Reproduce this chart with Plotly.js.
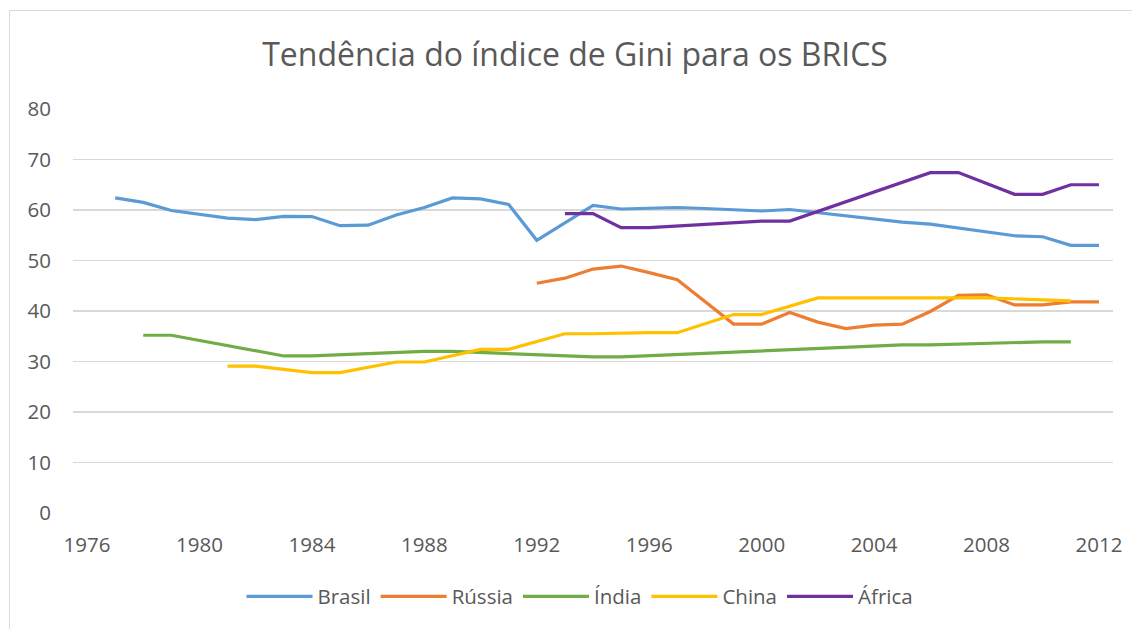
<!DOCTYPE html>
<html>
<head>
<meta charset="utf-8">
<script src="https://cdn.plot.ly/plotly-3.0.1.min.js"></script>
<style>
  html, body { margin: 0; padding: 0; background: #fff; }
  #frame { position: absolute; left: 9px; top: 10px; width: 1200px; height: 700px; border: 1px solid #d9d9d9; box-sizing: border-box; }
  #chart { position: absolute; left: 0; top: 0; width: 1132px; height: 629px; }
</style>
</head>
<body>
<div id="frame"></div>
<div id="chart"></div>
<script>
// ---- data ----
const brasilYears = [1977,1978,1979,1980,1981,1982,1983,1984,1985,1986,1987,1988,1989,1990,1991,1992,1994,1995,1996,1997,1998,1999,2000,2001,2002,2003,2004,2005,2006,2007,2008,2009,2010,2011,2012];
const brasilGini  = [62.4,61.5,59.9,59.1,58.4,58.1,58.75,58.7,56.9,57.0,59.0,60.5,62.4,62.2,61.1,54.0,60.9,60.2,60.3,60.5,60.3,60.0,59.8,60.1,59.5,58.9,58.2,57.6,57.2,56.4,55.6,54.9,54.7,53.0,53.0];

const russiaYears = [1992,1993,1994,1995,1996,1997,1999,2000,2001,2002,2003,2004,2005,2006,2007,2008,2009,2010,2011,2012];
const russiaGini  = [45.5,46.5,48.3,48.9,47.6,46.2,37.4,37.4,39.7,37.8,36.5,37.2,37.4,39.9,43.1,43.2,41.2,41.2,41.8,41.8];

const indiaYears = [1978,1979,1983,1984,1988,1989,1994,1995,2005,2006,2010,2011];
const indiaGini  = [35.2,35.2,31.1,31.1,32.0,32.0,30.9,30.9,33.3,33.3,33.9,33.9];

const chinaYears = [1981,1982,1984,1985,1987,1988,1990,1991,1993,1994,1996,1997,1999,2000,2002,2003,2005,2006,2008,2011];
const chinaGini  = [29.1,29.1,27.8,27.8,29.9,29.9,32.4,32.4,35.5,35.5,35.7,35.7,39.3,39.3,42.6,42.6,42.5,42.5,42.6,42.0];

const africaYears = [1993,1994,1995,1996,2000,2001,2006,2007,2009,2010,2011,2012];
const africaGini  = [59.3,59.3,56.5,56.5,57.8,57.8,67.4,67.4,63.1,63.1,65.0,65.0];

const seriesNames = ["Brasil","Rússia","Índia","China","África"];
const seriesColors = ["#5B9BD5","#ED7D31","#70AD47","#FFC000","#7030A0"];
const xTickVals = [1976,1980,1984,1988,1992,1996,2000,2004,2008,2012];
const yTickVals = [0,10,20,30,40,50,60,70,80];

const allX = [brasilYears, russiaYears, indiaYears, chinaYears, africaYears];
const allY = [brasilGini, russiaGini, indiaGini, chinaGini, africaGini];

const traces = seriesNames.map((name, i) => ({
  type: "scatter",
  mode: "lines",
  name: name,
  x: allX[i],
  y: allY[i],
  line: { color: seriesColors[i], width: 3.2 },
  connectgaps: true,
  hoverinfo: "x+y+name"
}));

const FONT = "Open Sans, Noto Sans, sans-serif";
const layout = {
  width: 1132,
  height: 629,
  paper_bgcolor: "rgba(0,0,0,0)",
  plot_bgcolor: "rgba(0,0,0,0)",
  margin: { l: 73, r: 19, t: 109, b: 114, pad: 0 },
  font: { family: FONT, color: "#595959" },
  title: {
    text: "Tendência do índice de Gini para os BRICS",
    font: { family: FONT, size: 32, color: "#595959" },
    x: 0.508, xanchor: "center",
    y: 0.913, yanchor: "middle"
  },
  xaxis: {
    range: [1975.5, 2012.5],
    tickmode: "array",
    tickvals: xTickVals,
    ticktext: xTickVals.map(String),
    showgrid: false,
    zeroline: false,
    showline: false,
    ticks: "",
    ticklabelstandoff: 17,
    tickfont: { family: FONT, size: 20.5, color: "#595959" },
    fixedrange: true
  },
  yaxis: {
    range: [0, 80],
    tickmode: "array",
    tickvals: yTickVals,
    ticktext: yTickVals.map(String),
    showgrid: true,
    gridcolor: "#d9d9d9",
    gridwidth: 1.3,
    zeroline: false,
    showline: false,
    ticks: "",
    ticklabelstandoff: 21,
    tickfont: { family: FONT, size: 20.5, color: "#595959" },
    fixedrange: true
  },
  showlegend: true,
  legend: {
    orientation: "h",
    x: 0.4875, xanchor: "center",
    y: -0.207, yanchor: "middle",
    font: { family: FONT, size: 20.5, color: "#595959" },
    itemwidth: 66,
    traceorder: "normal",
    bgcolor: "rgba(0,0,0,0)"
  }
};

Plotly.newPlot("chart", traces, layout, { displayModeBar: false, staticPlot: true });
</script>
</body>
</html>
